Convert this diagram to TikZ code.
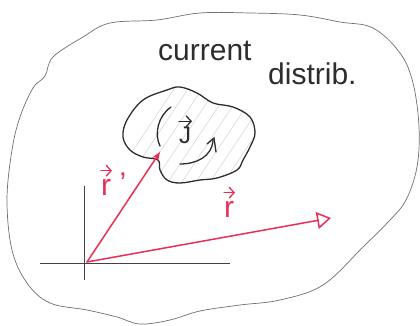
\documentclass[tikz,border=0pt]{standalone}
\usepackage{fontspec}
\setmainfont{Liberation Sans}
\usetikzlibrary{arrows.meta}
\definecolor{penred}{RGB}{236,45,85}
\definecolor{pengrey}{RGB}{110,110,110}
\definecolor{pendark}{RGB}{45,45,45}
\tikzset{
  outerline/.style={draw=pengrey, line width=0.7pt},
  innerline/.style={draw=pendark, line width=1.3pt},
  hatch/.style={draw=black!18, line width=0.5pt},
  axisline/.style={draw=pendark!90, line width=0.9pt},
  vecline/.style={draw=penred, line width=1.5pt, line cap=round},
  redlabel/.style={text=penred, font=\fontsize{30}{30}\selectfont, inner sep=0pt},
  redvec/.style={draw=penred, line width=1.3pt, line cap=round, -{Straight Barb[length=5pt,width=11pt,line width=1.3pt]}},
  handtext/.style={text=pendark, font=\fontsize{30}{30}\selectfont, inner sep=0pt, anchor=base west},
  circarrow/.style={draw=pendark, line width=1.3pt, line cap=round},
  darkvec/.style={draw=pendark, line width=1.3pt, line cap=round, -{Straight Barb[length=5pt,width=11pt,line width=1.3pt]}}
}
\begin{document}
\begin{tikzpicture}[x=1pt,y=-1pt]
\useasboundingbox (0,0) rectangle (420,326);
% outer region
\draw[outerline] plot[smooth cycle, tension=0.6] coordinates {
 (157,20) (200,13) (250,13) (300,15) (340,22) (373,28) (400,53) (413,83)
 (419,127) (417,167) (406,200) (390,220) (363,247) (323,285) (280,300)
 (240,305) (200,311) (170,320) (140,324) (117,317) (87,310) (50,303)
 (27,283) (12,250) (7,200) (12,150) (20,117) (33,88) (45,76) (53,57)
 (83,37) (110,23)};
% inner blob
\def\innerblob{plot[smooth cycle, tension=0.6] coordinates {
 (123,137) (127,120) (143,100) (167,90) (180,87) (197,93) (213,103)
 (233,107) (250,117) (255,133) (250,147) (243,160) (237,170) (217,178)
 (200,180) (180,183) (167,180) (160,170) (158,160) (143,157) (130,150)}}
\begin{scope}
 \clip \innerblob;
 \foreach \k in {0,...,16} {
   \draw[hatch] (100+14*\k,200) -- (180+14*\k,80);
 }
\end{scope}
\draw[innerline] \innerblob;
% current circulation
\draw[circarrow] (171,107) .. controls (158,116) and (154,134) .. (160,146);
\draw[circarrow] (180,164) .. controls (196,164) and (212,157) .. (213,140);
\draw[circarrow] (207,144) -- (214,138) -- (216,152);
\node[text=pendark, inner sep=0pt, font=\fontsize{24}{24}\selectfont, anchor=base] (J) at (185,143) {J};
\draw[darkvec] ([xshift=-6pt,yshift=5pt]J.north) -- ([xshift=7pt,yshift=5pt]J.north);
% texts
\node[handtext] (t1) at (158,61) {current};
\node[handtext] (t2) at (268,85) {distrib.};
% axes
\coordinate (O) at (87,262);
\coordinate (ytop) at (84,186);
\coordinate (ybot) at (84,280);
\coordinate (xl) at (40,263);
\coordinate (xr) at (230,263);
\draw[axisline] (ytop) -- (ybot);
\draw[axisline] (xl) -- (xr);
% vectors
\coordinate (P) at (160,152);
\coordinate (R) at (331,218);
\draw[vecline, -{Stealth[length=9pt,width=7pt,open]}] (O) -- (P);
\draw[vecline, -{Triangle[open,length=14pt,width=17pt,line width=1.5pt]}] (O) -- (R);
\node[redlabel, anchor=base] (rp) at (106,195) {r};
\draw[redvec] ([xshift=-5pt,yshift=8pt]rp.north) -- ([xshift=6pt,yshift=8pt]rp.north);
\node[redlabel, anchor=base] (rpp) at (123,193) {'};
\node[redlabel, anchor=base] (r) at (229,217) {r};
\draw[redvec] ([xshift=-5pt,yshift=8pt]r.north) -- ([xshift=6pt,yshift=8pt]r.north);
\end{tikzpicture}
\end{document}
